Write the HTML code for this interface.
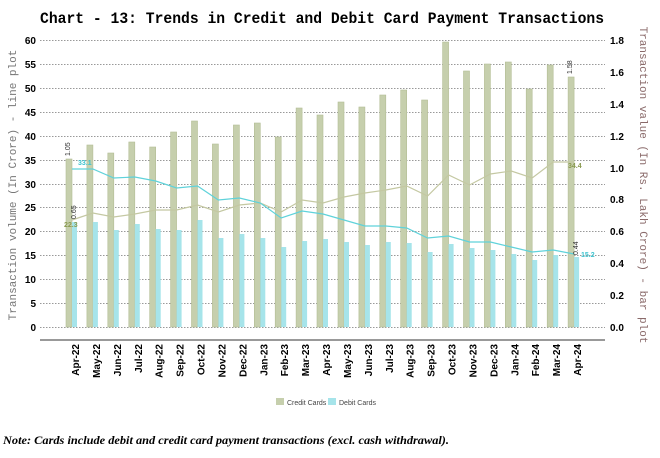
<!DOCTYPE html><html><head><style>body{margin:0;background:#fff}svg{display:block}</style></head><body>
<svg width="660" height="458" xmlns="http://www.w3.org/2000/svg" font-family="Liberation Sans, sans-serif">
<text x="322" y="23" text-anchor="middle" font-family="Liberation Mono, monospace" font-weight="bold" font-size="15.5" textLength="564" lengthAdjust="spacingAndGlyphs">Chart - 13: Trends in Credit and Debit Card Payment Transactions</text>
<g stroke="#999" stroke-dasharray="1.5,1.5" stroke-width="1">
<line x1="40" x2="605" y1="40.5" y2="40.5"/><line x1="40" x2="605" y1="64.5" y2="64.5"/><line x1="40" x2="605" y1="88.5" y2="88.5"/><line x1="40" x2="605" y1="112.5" y2="112.5"/><line x1="40" x2="605" y1="136.5" y2="136.5"/><line x1="40" x2="605" y1="160.5" y2="160.5"/><line x1="40" x2="605" y1="184.5" y2="184.5"/><line x1="40" x2="605" y1="207.5" y2="207.5"/><line x1="40" x2="605" y1="231.5" y2="231.5"/><line x1="40" x2="605" y1="255.5" y2="255.5"/><line x1="40" x2="605" y1="279.5" y2="279.5"/><line x1="40" x2="605" y1="303.5" y2="303.5"/><line x1="40" x2="605" y1="327.5" y2="327.5"/>
</g>
<g font-size="10" font-weight="bold" text-anchor="end">
<text x="36" y="44">60</text><text x="36" y="68">55</text><text x="36" y="92">50</text><text x="36" y="116">45</text><text x="36" y="140">40</text><text x="36" y="164">35</text><text x="36" y="188">30</text><text x="36" y="211">25</text><text x="36" y="235">20</text><text x="36" y="259">15</text><text x="36" y="283">10</text><text x="36" y="307">5</text><text x="36" y="331">0</text>
</g>
<g font-size="10" font-weight="bold">
<text x="610" y="44">1.8</text><text x="610" y="76">1.6</text><text x="610" y="108">1.4</text><text x="610" y="140">1.2</text><text x="610" y="172">1.0</text><text x="610" y="203">0.8</text><text x="610" y="235">0.6</text><text x="610" y="267">0.4</text><text x="610" y="299">0.2</text><text x="610" y="331">0.0</text>
</g>
<text transform="translate(16,185) rotate(-90)" text-anchor="middle" font-family="Liberation Mono, monospace" font-size="11" fill="#777">Transaction volume (In Crore) - line plot</text>
<text transform="translate(640,185) rotate(90)" text-anchor="middle" font-family="Liberation Mono, monospace" font-size="11" fill="#8a6a6a">Transaction value (In Rs. Lakh Crore) - bar plot</text>
<g fill="#c6cfad" stroke="#b3bd95" stroke-width="0.6">
<rect x="66" y="159" width="6" height="168"/><rect x="86.9" y="145" width="6" height="182"/><rect x="107.8" y="153" width="6" height="174"/><rect x="128.8" y="142" width="6" height="185"/><rect x="149.7" y="147" width="6" height="180"/><rect x="170.6" y="132" width="6" height="195"/><rect x="191.5" y="121" width="6" height="206"/><rect x="212.4" y="144" width="6" height="183"/><rect x="233.4" y="125" width="6" height="202"/><rect x="254.3" y="123" width="6" height="204"/><rect x="275.2" y="137" width="6" height="190"/><rect x="296.1" y="108" width="6" height="219"/><rect x="317" y="115" width="6" height="212"/><rect x="338" y="102" width="6" height="225"/><rect x="358.9" y="107" width="6" height="220"/><rect x="379.8" y="95" width="6" height="232"/><rect x="400.7" y="90" width="6" height="237"/><rect x="421.6" y="100" width="6" height="227"/><rect x="442.6" y="42" width="6" height="285"/><rect x="463.5" y="71" width="6" height="256"/><rect x="484.4" y="64" width="6" height="263"/><rect x="505.3" y="62" width="6" height="265"/><rect x="526.2" y="89" width="6" height="238"/><rect x="547.2" y="65" width="6" height="262"/><rect x="568.1" y="77" width="6" height="250"/>
</g>
<g fill="#a6e4ea">
<rect x="72" y="222" width="5" height="105"/><rect x="92.9" y="222" width="5" height="105"/><rect x="113.8" y="230" width="5" height="97"/><rect x="134.8" y="224" width="5" height="103"/><rect x="155.7" y="229" width="5" height="98"/><rect x="176.6" y="230" width="5" height="97"/><rect x="197.5" y="220" width="5" height="107"/><rect x="218.4" y="238" width="5" height="89"/><rect x="239.4" y="234" width="5" height="93"/><rect x="260.3" y="238" width="5" height="89"/><rect x="281.2" y="247" width="5" height="80"/><rect x="302.1" y="241" width="5" height="86"/><rect x="323" y="239" width="5" height="88"/><rect x="344" y="242" width="5" height="85"/><rect x="364.9" y="245" width="5" height="82"/><rect x="385.8" y="242" width="5" height="85"/><rect x="406.7" y="243" width="5" height="84"/><rect x="427.6" y="252" width="5" height="75"/><rect x="448.6" y="244" width="5" height="83"/><rect x="469.5" y="248" width="5" height="79"/><rect x="490.4" y="250" width="5" height="77"/><rect x="511.3" y="254" width="5" height="73"/><rect x="532.2" y="260" width="5" height="67"/><rect x="553.2" y="255" width="5" height="72"/><rect x="574.1" y="257" width="5" height="70"/>
</g>
<polyline fill="none" stroke="#c4c8a2" stroke-width="1.2" points="72,220 92.9,213 113.8,217 134.8,214 155.7,210 176.6,210 197.5,205 218.4,212 239.4,205 260.3,203 281.2,212 302.1,200 323,203 344,197 364.9,193 385.8,190 406.7,186 427.6,196 448.6,175 469.5,185 490.4,174 511.3,171 532.2,178 553.2,162 574.1,162"/>
<polyline fill="none" stroke="#5fd2da" stroke-width="1.2" points="72,169 92.9,169 113.8,178 134.8,177 155.7,181 176.6,188 197.5,186 218.4,200 239.4,198 260.3,203 281.2,218 302.1,211 323,214 344,220 364.9,226 385.8,226 406.7,228 427.6,238 448.6,236 469.5,242 490.4,242 511.3,247 532.2,252 553.2,250 574.1,254"/>
<g font-size="7">
<text transform="translate(70,156) rotate(-90)" fill="#333">1.05</text>
<text transform="translate(76,219) rotate(-90)" fill="#333">0.65</text>
<text transform="translate(572,74) rotate(-90)" fill="#333">1.58</text>
<text transform="translate(578,255) rotate(-90)" fill="#333">0.44</text>
<text x="78" y="165" fill="#3cc3cf" font-weight="bold">33.1</text>
<text x="64" y="227" fill="#8a9a50" font-weight="bold">22.3</text>
<text x="568" y="168" fill="#8a9a50" font-weight="bold">34.4</text>
<text x="581" y="257" fill="#3cc3cf" font-weight="bold">15.2</text>
</g>
<line x1="40" x2="605" y1="340" y2="340" stroke="#999" stroke-width="2"/>
<g font-size="10" font-weight="bold" text-anchor="end">
<text transform="translate(79,344) rotate(-90)">Apr-22</text><text transform="translate(99.9,344) rotate(-90)">May-22</text><text transform="translate(120.8,344) rotate(-90)">Jun-22</text><text transform="translate(141.8,344) rotate(-90)">Jul-22</text><text transform="translate(162.7,344) rotate(-90)">Aug-22</text><text transform="translate(183.6,344) rotate(-90)">Sep-22</text><text transform="translate(204.5,344) rotate(-90)">Oct-22</text><text transform="translate(225.4,344) rotate(-90)">Nov-22</text><text transform="translate(246.4,344) rotate(-90)">Dec-22</text><text transform="translate(267.3,344) rotate(-90)">Jan-23</text><text transform="translate(288.2,344) rotate(-90)">Feb-23</text><text transform="translate(309.1,344) rotate(-90)">Mar-23</text><text transform="translate(330,344) rotate(-90)">Apr-23</text><text transform="translate(351,344) rotate(-90)">May-23</text><text transform="translate(371.9,344) rotate(-90)">Jun-23</text><text transform="translate(392.8,344) rotate(-90)">Jul-23</text><text transform="translate(413.7,344) rotate(-90)">Aug-23</text><text transform="translate(434.6,344) rotate(-90)">Sep-23</text><text transform="translate(455.6,344) rotate(-90)">Oct-23</text><text transform="translate(476.5,344) rotate(-90)">Nov-23</text><text transform="translate(497.4,344) rotate(-90)">Dec-23</text><text transform="translate(518.3,344) rotate(-90)">Jan-24</text><text transform="translate(539.2,344) rotate(-90)">Feb-24</text><text transform="translate(560.2,344) rotate(-90)">Mar-24</text><text transform="translate(581.1,344) rotate(-90)">Apr-24</text>
</g>
<rect x="276" y="398" width="8" height="7" fill="#c6cfad"/><text x="287" y="405" font-size="7" fill="#444">Credit Cards</text>
<rect x="328" y="398" width="8" height="7" fill="#a6e4ea"/><text x="339" y="405" font-size="7" fill="#444">Debit Cards</text>
<text x="3" y="444" font-family="Liberation Serif, serif" font-style="italic" font-weight="bold" font-size="11.5" textLength="446" lengthAdjust="spacingAndGlyphs">Note: Cards include debit and credit card payment transactions (excl. cash withdrawal).</text>
</svg>
</body></html>
